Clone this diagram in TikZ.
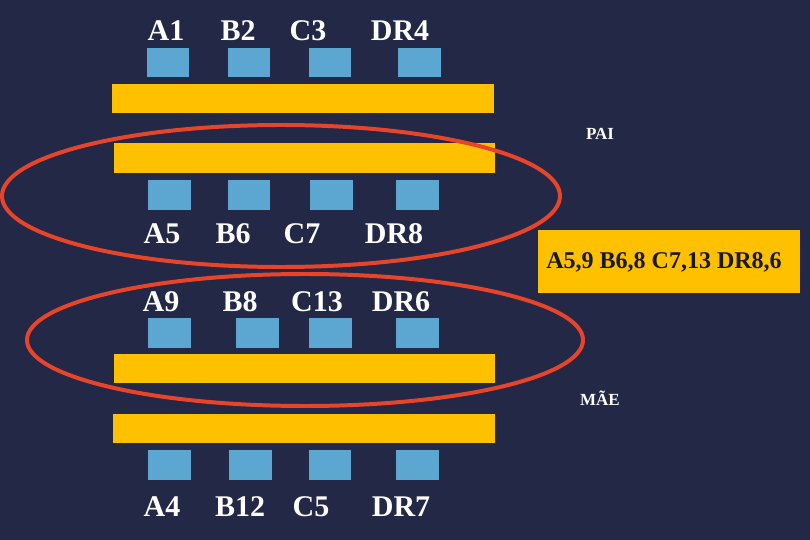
\documentclass[tikz,border=0pt]{standalone}
\usepackage{fontspec}
\setmainfont{Liberation Serif}
\usetikzlibrary{positioning}
\definecolor{bgnavy}{RGB}{35,40,70}
\definecolor{pairyellow}{RGB}{255,192,0}
\definecolor{geneblue}{RGB}{91,167,210}
\definecolor{ringred}{RGB}{232,68,42}

\begin{document}
\begin{tikzpicture}[x=0.03cm,y=-0.03cm,
  gene/.style={fill=geneblue,minimum width=1.28cm,minimum height=0.88cm,inner sep=0pt},
  chrom/.style={fill=pairyellow,minimum width=11.43cm,minimum height=0.88cm,inner sep=0pt},
  tag/.style={text=white,font=\fontsize{25.6}{30}\selectfont\bfseries,inner sep=0pt},
  parent/.style={text=white,font=\fontsize{14.5}{17}\selectfont\bfseries,inner sep=0pt},
  ring/.style={draw=ringred,line width=3.4pt}
]
  % background
  \fill[bgnavy] (0,0) rectangle (810,540);
  \useasboundingbox (0,0) rectangle (810,540);

  % first pair
  \node[tag] (a1) at (166,31) {A1};
  \node[tag] (b2) at (238,31) {B2};
  \node[tag] (c3) at (308,31) {C3};
  \node[tag] (dr4) at (400,31) {DR4};
  \node[gene] (g1) at (168,62.5) {};
  \node[gene] (g2) at (249,62.5) {};
  \node[gene] (g3) at (330,62.5) {};
  \node[gene] (g4) at (419.5,62.5) {};
  \node[chrom] (top1) at (303,98.5) {};
  \node[chrom] (top2) at (304.5,158) {};
  \node[gene] (g5) at (169.5,195) {};
  \node[gene] (g6) at (249,195) {};
  \node[gene] (g7) at (331.5,195) {};
  \node[gene] (g8) at (417.5,195) {};
  \node[tag] (a5) at (162,234) {A5};
  \node[tag] (b6) at (233,234) {B6};
  \node[tag] (c7) at (302,234) {C7};
  \node[tag] (dr8) at (394,234) {DR8};
  \node[parent] (pai) at (600,134) {PAI};

  % second pair
  \node[tag] (a9) at (161,302) {A9};
  \node[tag] (b8) at (240,302) {B8};
  \node[tag] (c13) at (317,302) {C13};
  \node[tag] (dr6) at (401,302) {DR6};
  \node[gene] (g9) at (169.5,333) {};
  \node[gene] (g10) at (257.5,333) {};
  \node[gene] (g11) at (330.5,333) {};
  \node[gene] (g12) at (417.5,333) {};
  \node[chrom] (bot1) at (304.5,368.5) {};
  \node[chrom] (bot2) at (304,428.5) {};
  \node[gene] (g13) at (169.5,465) {};
  \node[gene] (g14) at (250.5,465) {};
  \node[gene] (g15) at (330,465) {};
  \node[gene] (g16) at (417.5,465) {};
  \node[tag] (a4) at (162,507) {A4};
  \node[tag] (b12) at (240,507) {B12};
  \node[tag] (c5) at (311,507) {C5};
  \node[tag] (dr7) at (401,507) {DR7};
  \node[parent] (mae) at (600,398) {MÃE};

  % result
  \node[fill=pairyellow,minimum width=7.86cm,minimum height=1.86cm,inner sep=0pt] (kid) at (669,261.5) {};
  \node[font=\fontsize{20.5}{24}\selectfont\bfseries,text=black!90,inner sep=0pt] (kidtext) at (664,262)
    {A5,9 B6,8 C7,13 DR8,6};

  % inherited halves
  \draw[ring] (281,196) ellipse [x radius=8.37cm,y radius=2.13cm];
  \draw[ring] (305,340) ellipse [x radius=8.34cm,y radius=1.98cm];
\end{tikzpicture}
\end{document}
